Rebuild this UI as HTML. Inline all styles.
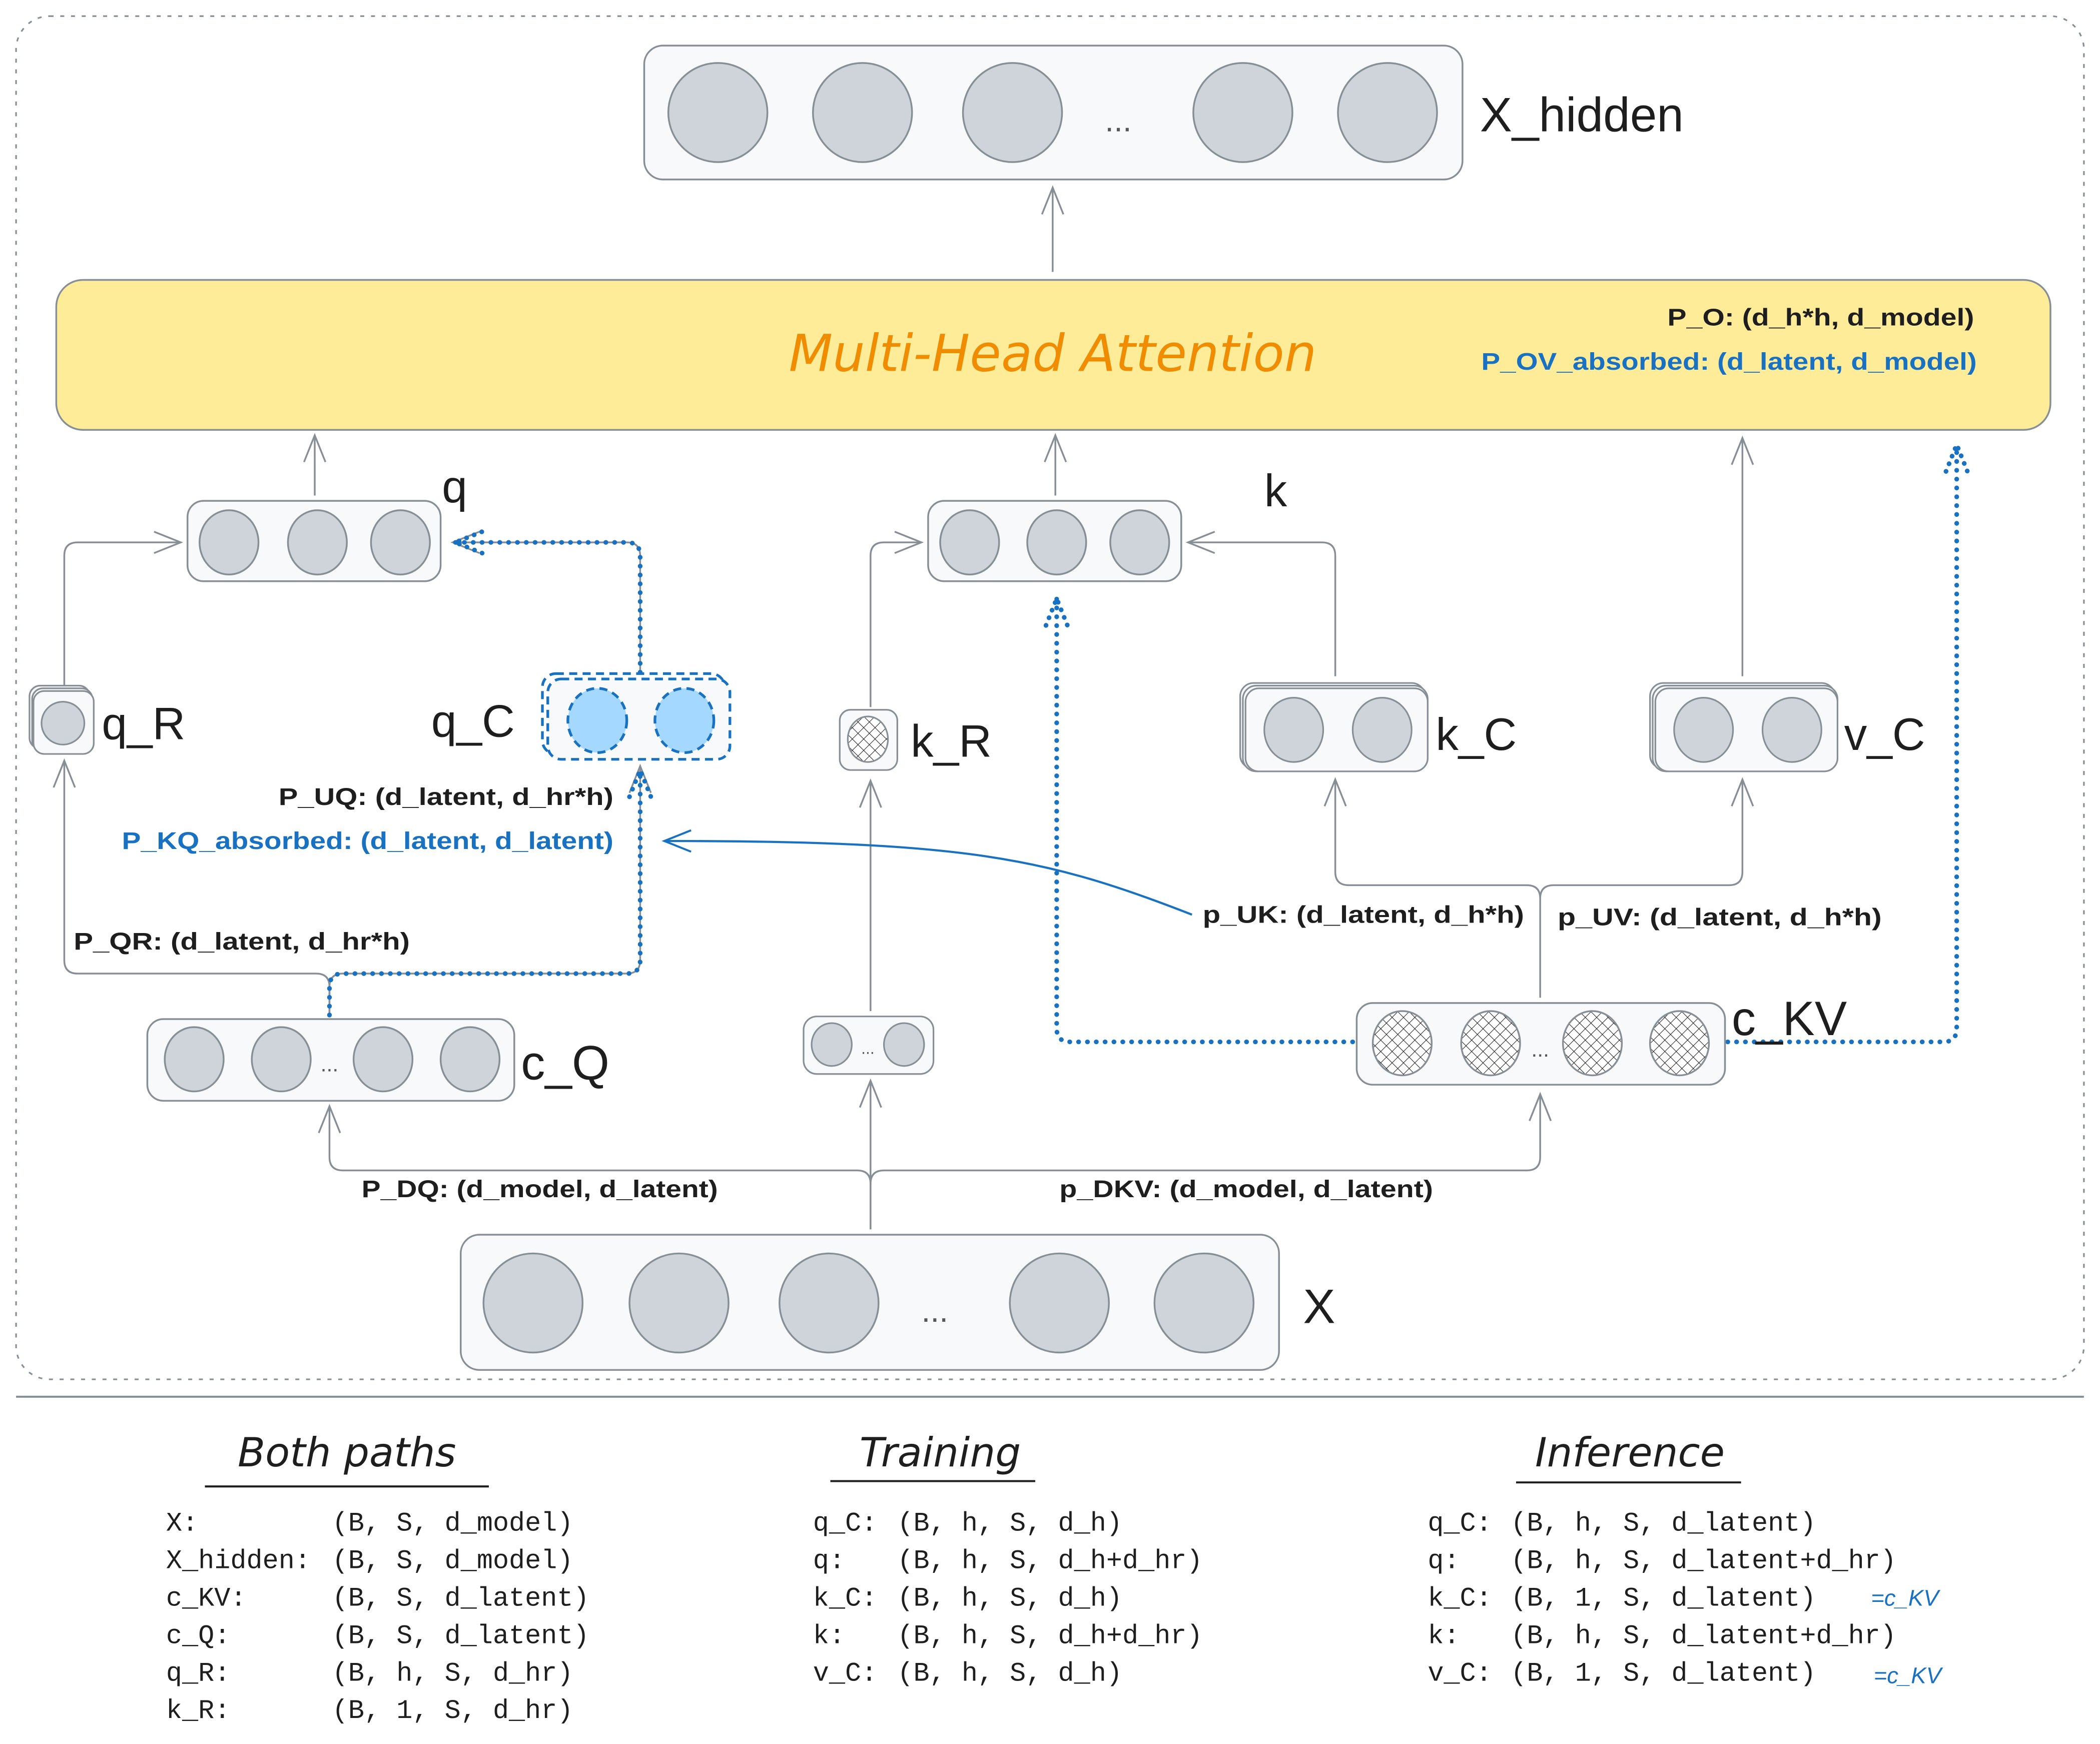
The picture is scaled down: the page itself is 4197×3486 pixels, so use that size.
<!DOCTYPE html>
<html><head><meta charset="utf-8"><style>html,body{margin:0;padding:0;background:#fff}svg{display:block}</style></head><body>
<svg xmlns="http://www.w3.org/2000/svg" width="4197" height="3486" viewBox="0 0 1568 1302.3">
<defs>
<pattern id="h" width="6" height="6" patternUnits="userSpaceOnUse" patternTransform="rotate(45)">
<rect width="6" height="6" fill="#fff"/><path d="M0 0V6M0 0H6" stroke="#222" stroke-width="0.8"/></pattern>
<marker id="a" markerWidth="24" markerHeight="20" refX="22" refY="10" orient="auto" markerUnits="userSpaceOnUse"><path d="M2 2L22 10L2 18" fill="none" stroke="#868e96" stroke-width="1.3"/></marker>
<marker id="b" markerWidth="24" markerHeight="20" refX="22" refY="10" orient="auto" markerUnits="userSpaceOnUse"><path d="M2 2L22 10L2 18" fill="none" stroke="#1971c2" stroke-width="3.5" stroke-dasharray="0.1 6" stroke-linecap="round"/></marker>
<marker id="c" markerWidth="24" markerHeight="20" refX="22" refY="10" orient="auto" markerUnits="userSpaceOnUse"><path d="M2 2L22 10L2 18" fill="none" stroke="#1971c2" stroke-width="1.5"/></marker>
</defs>
<g font-family="Liberation Sans, sans-serif">
<rect x="12" y="12" width="1544" height="1018" rx="25" fill="none" stroke="#868e96" stroke-width="1.2" stroke-dasharray="3 5"/>
<line x1="12" y1="1043" x2="1556" y2="1043" stroke="#868e96" stroke-width="1.5"/>

<g fill="none" stroke="#868e96" stroke-width="1.3">
<path d="M786 203V140" marker-end="url(#a)"/>
<path d="M235 370V325" marker-end="url(#a)"/>
<path d="M788 370V325" marker-end="url(#a)"/>
<path d="M1301 505V327" marker-end="url(#a)"/>
<path d="M48 512V415Q48 405 58 405H135" marker-end="url(#a)"/>
<path d="M246 758V737Q246 727 236 727H58Q48 727 48 717V568" marker-end="url(#a)"/>
<path d="M478 502V415Q478 405 468 405H338" marker-end="url(#a)"/>
<path d="M246 758V737Q246 727 256 727H468Q478 727 478 717V572" marker-end="url(#a)"/>
<path d="M650 528V415Q650 405 660 405H688" marker-end="url(#a)"/>
<path d="M997 505V415Q997 405 987 405H887" marker-end="url(#a)"/>
<path d="M650 755V583" marker-end="url(#a)"/>
<path d="M1150 745V671Q1150 661 1140 661H1007Q997 661 997 651V582" marker-end="url(#a)"/>
<path d="M1150 671Q1150 661 1160 661H1291Q1301 661 1301 651V582" marker-end="url(#a)"/>
<path d="M650 918V884Q650 874 640 874H256Q246 874 246 864V826" marker-end="url(#a)"/>
<path d="M650 884Q650 874 660 874H1140Q1150 874 1150 864V817" marker-end="url(#a)"/>
<path d="M650 918V807" marker-end="url(#a)"/>
</g>
<g fill="none" stroke="#1971c2" stroke-width="3.5" stroke-dasharray="0.1 6.5" stroke-linecap="round">
<path d="M246 758V737Q246 727 256 727H468Q478 727 478 717V575" marker-end="url(#b)"/>
<path d="M478 502V415Q478 405 468 405H340" marker-end="url(#b)"/>
<path d="M1010 778H799Q789 778 789 768V447" marker-end="url(#b)"/>
<path d="M1290 778H1451Q1461 778 1461 768V332" marker-end="url(#b)"/>
</g>
<path d="M890 683C780 640 720 628 496 628" fill="none" stroke="#1971c2" stroke-width="1.6" marker-end="url(#c)"/>

<rect x="481" y="34" width="611" height="100" rx="14" fill="#f8f9fa" stroke="#868e96" stroke-width="1.3"/>
<g fill="#ced4da" stroke="#868e96" stroke-width="1.3"><circle cx="536" cy="84" r="37"/><circle cx="644" cy="84" r="37"/><circle cx="756" cy="84" r="37"/><circle cx="928" cy="84" r="37"/><circle cx="1036" cy="84" r="37"/></g>
<text x="835" y="98" font-size="24" fill="#555" text-anchor="middle">...</text>
<text x="1105" y="98" font-size="36" fill="#1e1e1e">X_hidden</text>

<rect x="42" y="209" width="1489" height="112" rx="20" fill="#ffec99" stroke="#868e96" stroke-width="1.3"/>
<text x="786" y="277" font-size="38" fill="#f08c00" text-anchor="middle" font-style="italic" font-family="DejaVu Sans, sans-serif">Multi-Head Attention</text>
<g font-size="18" font-weight="bold" lengthAdjust="spacingAndGlyphs">
<text x="1245" y="243" fill="#1e1e1e" textLength="229" lengthAdjust="spacingAndGlyphs">P_O: (d_h*h, d_model)</text>
<text x="1106" y="276" fill="#1971c2" textLength="370" lengthAdjust="spacingAndGlyphs">P_OV_absorbed: (d_latent, d_model)</text>
</g>

<rect x="140" y="374" width="189" height="60" rx="12" fill="#f8f9fa" stroke="#868e96" stroke-width="1.3"/>
<rect x="693" y="374" width="189" height="60" rx="12" fill="#f8f9fa" stroke="#868e96" stroke-width="1.3"/>
<g fill="#ced4da" stroke="#868e96" stroke-width="1.3">
<ellipse cx="171" cy="405" rx="22" ry="24"/><ellipse cx="237" cy="405" rx="22" ry="24"/><ellipse cx="299" cy="405" rx="22" ry="24"/>
<ellipse cx="724" cy="405" rx="22" ry="24"/><ellipse cx="789" cy="405" rx="22" ry="24"/><ellipse cx="851" cy="405" rx="22" ry="24"/>
</g>
<text x="330" y="375" font-size="34" fill="#1e1e1e">q</text>
<text x="944" y="378" font-size="34" fill="#1e1e1e">k</text>

<g fill="#f8f9fa" stroke="#868e96" stroke-width="1.2">
<rect x="22" y="512" width="45" height="47" rx="8"/><rect x="24" y="514" width="45" height="47" rx="8"/><rect x="25" y="516" width="45" height="47" rx="8"/>
</g>
<circle cx="47" cy="540" r="16" fill="#ced4da" stroke="#868e96" stroke-width="1.2"/>
<text x="76" y="552" font-size="34" fill="#1e1e1e">q_R</text>

<rect x="405" y="503" width="136" height="60" rx="10" fill="none" stroke="#1971c2" stroke-width="2" stroke-dasharray="6 4"/>
<rect x="409" y="507" width="136" height="60" rx="10" fill="#f8f9fa" stroke="#1971c2" stroke-width="2" stroke-dasharray="6 4"/>
<ellipse cx="446" cy="538" rx="22" ry="24" fill="#a5d8ff" stroke="#1971c2" stroke-width="2" stroke-dasharray="6 4"/>
<ellipse cx="511" cy="538" rx="22" ry="24" fill="#a5d8ff" stroke="#1971c2" stroke-width="2" stroke-dasharray="6 4"/>
<text x="322" y="550" font-size="34" fill="#1e1e1e">q_C</text>

<rect x="627" y="530" width="43" height="45" rx="8" fill="#f8f9fa" stroke="#868e96" stroke-width="1.2"/>
<ellipse cx="648" cy="552" rx="15" ry="17" fill="url(#h)" stroke="#868e96" stroke-width="1.2"/>
<text x="680" y="565" font-size="34" fill="#1e1e1e">k_R</text>

<g fill="#f8f9fa" stroke="#868e96" stroke-width="1.2">
<rect x="926" y="510" width="138" height="64" rx="10"/><rect x="928" y="512" width="138" height="64" rx="10"/><rect x="930" y="514" width="136" height="62" rx="10"/>
<rect x="1232" y="510" width="138" height="64" rx="10"/><rect x="1234" y="512" width="138" height="64" rx="10"/><rect x="1236" y="514" width="136" height="62" rx="10"/>
</g>
<g fill="#ced4da" stroke="#868e96" stroke-width="1.2">
<ellipse cx="966" cy="545" rx="22" ry="24"/><ellipse cx="1032" cy="545" rx="22" ry="24"/>
<ellipse cx="1272" cy="545" rx="22" ry="24"/><ellipse cx="1338" cy="545" rx="22" ry="24"/>
</g>
<text x="1072" y="560" font-size="34" fill="#1e1e1e">k_C</text>
<text x="1377" y="560" font-size="34" fill="#1e1e1e">v_C</text>

<g font-size="18" font-weight="bold">
<text x="208" y="601" fill="#1e1e1e" textLength="250" lengthAdjust="spacingAndGlyphs">P_UQ: (d_latent, d_hr*h)</text>
<text x="91" y="634" fill="#1971c2" textLength="367" lengthAdjust="spacingAndGlyphs">P_KQ_absorbed: (d_latent, d_latent)</text>
<text x="55" y="709" fill="#1e1e1e" textLength="251" lengthAdjust="spacingAndGlyphs">P_QR: (d_latent, d_hr*h)</text>
<text x="898" y="689" fill="#1e1e1e" textLength="240" lengthAdjust="spacingAndGlyphs">p_UK: (d_latent, d_h*h)</text>
<text x="1163" y="691" fill="#1e1e1e" textLength="242" lengthAdjust="spacingAndGlyphs">p_UV: (d_latent, d_h*h)</text>
<text x="270" y="894" fill="#1e1e1e" textLength="266" lengthAdjust="spacingAndGlyphs">P_DQ: (d_model, d_latent)</text>
<text x="791" y="894" fill="#1e1e1e" textLength="279" lengthAdjust="spacingAndGlyphs">p_DKV: (d_model, d_latent)</text>
</g>

<rect x="110" y="761" width="274" height="61" rx="12" fill="#f8f9fa" stroke="#868e96" stroke-width="1.3"/>
<g fill="#ced4da" stroke="#868e96" stroke-width="1.3"><ellipse cx="145" cy="791" rx="22" ry="24"/><ellipse cx="210" cy="791" rx="22" ry="24"/><ellipse cx="286" cy="791" rx="22" ry="24"/><ellipse cx="351" cy="791" rx="22" ry="24"/></g>
<text x="246" y="800" font-size="16" fill="#555" text-anchor="middle">...</text>
<text x="389" y="806" font-size="36" fill="#1e1e1e">c_Q</text>

<rect x="600" y="759" width="97" height="43" rx="10" fill="#f8f9fa" stroke="#868e96" stroke-width="1.2"/>
<g fill="#ced4da" stroke="#868e96" stroke-width="1.2"><ellipse cx="621" cy="780" rx="15" ry="16"/><ellipse cx="675" cy="780" rx="15" ry="16"/></g>
<text x="648" y="787" font-size="12" fill="#555" text-anchor="middle">...</text>

<rect x="1013" y="749" width="275" height="61" rx="12" fill="#f8f9fa" stroke="#868e96" stroke-width="1.3"/>
<g fill="url(#h)" stroke="#868e96" stroke-width="1.3"><ellipse cx="1047" cy="779" rx="22" ry="24"/><ellipse cx="1113" cy="779" rx="22" ry="24"/><ellipse cx="1189" cy="779" rx="22" ry="24"/><ellipse cx="1254" cy="779" rx="22" ry="24"/></g>
<text x="1150" y="789" font-size="16" fill="#555" text-anchor="middle">...</text>
<text x="1293" y="773" font-size="36" fill="#1e1e1e">c_KV</text>

<rect x="344" y="922" width="611" height="101" rx="14" fill="#f8f9fa" stroke="#868e96" stroke-width="1.3"/>
<g fill="#ced4da" stroke="#868e96" stroke-width="1.3"><circle cx="398" cy="973" r="37"/><circle cx="507" cy="973" r="37"/><circle cx="619" cy="973" r="37"/><circle cx="791" cy="973" r="37"/><circle cx="899" cy="973" r="37"/></g>
<text x="698" y="987" font-size="24" fill="#555" text-anchor="middle">...</text>
<text x="973" y="988" font-size="36" fill="#1e1e1e">X</text>

<g font-size="30" fill="#1e1e1e" text-anchor="middle" font-style="italic" font-family="DejaVu Sans, sans-serif">
<text x="259" y="1095">Both paths</text><text x="702" y="1095">Training</text><text x="1217" y="1095">Inference</text>
</g>
<g stroke="#1e1e1e" stroke-width="1.5"><line x1="153" y1="1110" x2="365" y2="1110"/><line x1="620" y1="1106" x2="773" y2="1106"/><line x1="1132" y1="1107" x2="1300" y2="1107"/></g>

<g font-family="Liberation Mono, monospace" font-size="20" fill="#1e1e1e">
<text x="124" y="1143">X:</text><text x="248" y="1143">(B, S, d_model)</text>
<text x="124" y="1171">X_hidden:</text><text x="248" y="1171">(B, S, d_model)</text>
<text x="124" y="1199">c_KV:</text><text x="248" y="1199">(B, S, d_latent)</text>
<text x="124" y="1227">c_Q:</text><text x="248" y="1227">(B, S, d_latent)</text>
<text x="124" y="1255">q_R:</text><text x="248" y="1255">(B, h, S, d_hr)</text>
<text x="124" y="1283">k_R:</text><text x="248" y="1283">(B, 1, S, d_hr)</text>
<text x="607" y="1143">q_C:</text><text x="670" y="1143">(B, h, S, d_h)</text>
<text x="607" y="1171">q:</text><text x="670" y="1171">(B, h, S, d_h+d_hr)</text>
<text x="607" y="1199">k_C:</text><text x="670" y="1199">(B, h, S, d_h)</text>
<text x="607" y="1227">k:</text><text x="670" y="1227">(B, h, S, d_h+d_hr)</text>
<text x="607" y="1255">v_C:</text><text x="670" y="1255">(B, h, S, d_h)</text>
<text x="1066" y="1143">q_C:</text><text x="1128" y="1143">(B, h, S, d_latent)</text>
<text x="1066" y="1171">q:</text><text x="1128" y="1171">(B, h, S, d_latent+d_hr)</text>
<text x="1066" y="1199">k_C:</text><text x="1128" y="1199">(B, 1, S, d_latent)</text>
<text x="1066" y="1227">k:</text><text x="1128" y="1227">(B, h, S, d_latent+d_hr)</text>
<text x="1066" y="1255">v_C:</text><text x="1128" y="1255">(B, 1, S, d_latent)</text>
</g>
<text x="1397" y="1199" font-size="17" fill="#1971c2" font-style="italic">=c_KV</text>
<text x="1399" y="1257" font-size="17" fill="#1971c2" font-style="italic">=c_KV</text>
</g>
</svg>
</body></html>
